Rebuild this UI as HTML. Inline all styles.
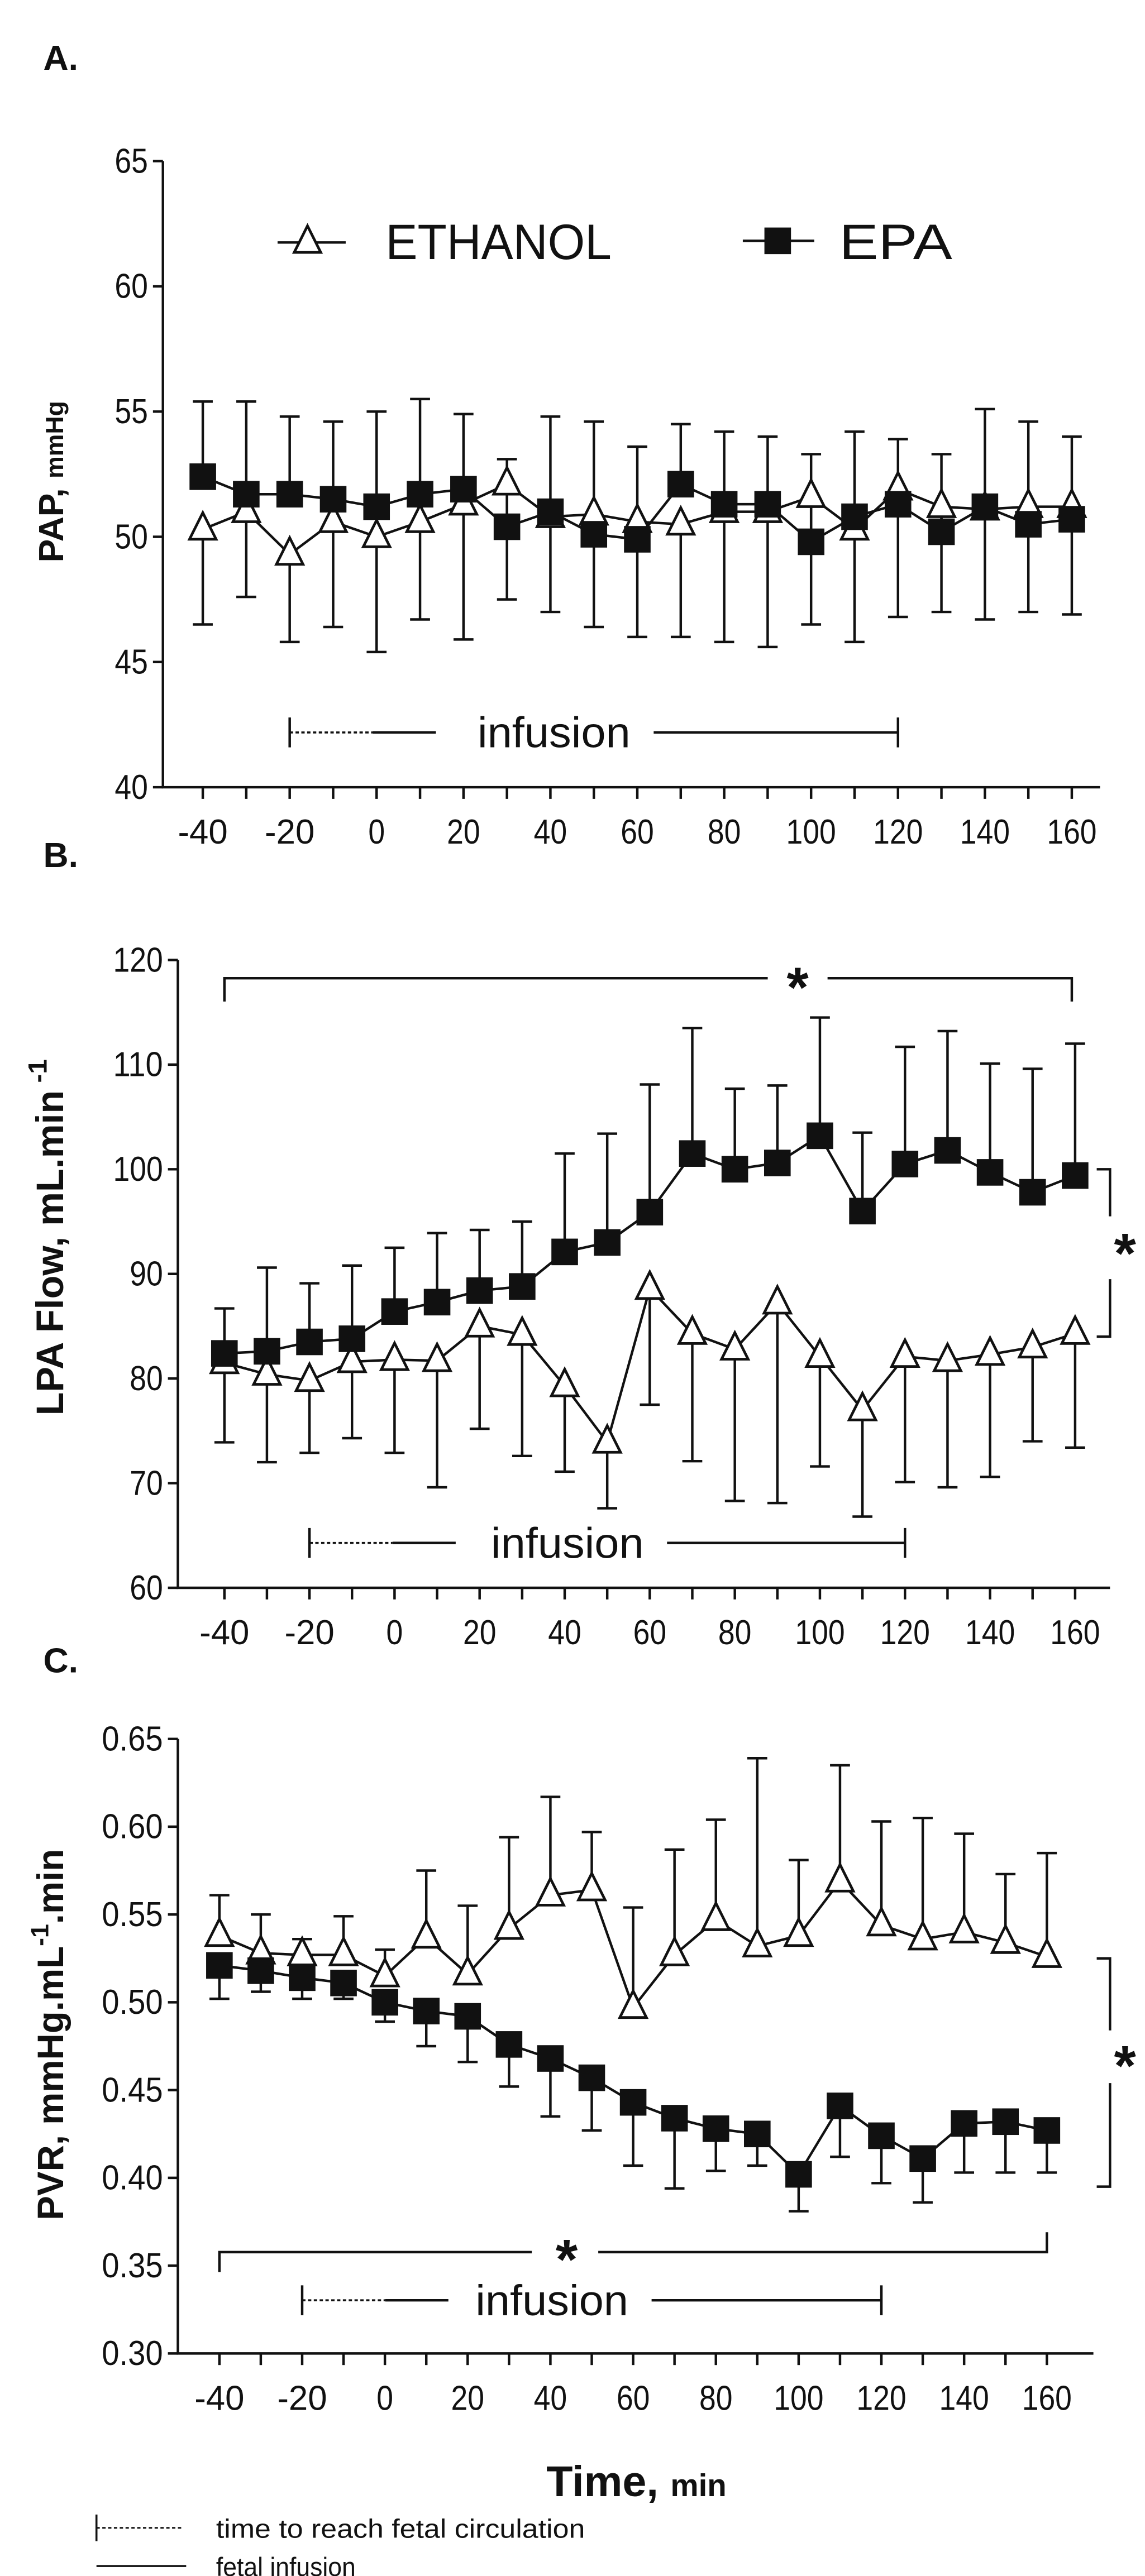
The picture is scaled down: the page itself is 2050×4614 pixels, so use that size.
<!DOCTYPE html>
<html><head><meta charset="utf-8"><style>
html,body{margin:0;padding:0;background:#fff}
svg{display:block}
text{font-family:"Liberation Sans",sans-serif;fill:#111}
</style></head><body>
<svg id="fig" width="2050" height="4614" viewBox="0 0 689 1551" xmlns="http://www.w3.org/2000/svg"></svg>
<script>
const times = [-40,-30,-20,-10,0,10,20,30,40,50,60,70,80,90,100,110,120,130,140,150,160];
const xTicks = [-40,-20,0,20,40,60,80,100,120,140,160];
const aEthanol = [50.3,51.0,49.3,50.6,50.0,50.6,51.3,52.1,50.8,50.9,50.6,50.5,51.0,51.0,51.6,50.3,51.9,51.2,51.1,51.2,51.2];
const aEpa = [52.4,51.7,51.7,51.5,51.2,51.7,51.9,50.4,51.0,50.1,49.9,52.1,51.3,51.3,49.8,50.8,51.3,50.2,51.2,50.5,50.7];
const aUpper = [55.4,55.4,54.8,54.6,55.0,55.5,54.9,53.1,54.8,54.6,53.6,54.5,54.2,54.0,53.3,54.2,53.9,53.3,55.1,54.6,54.0];
const aLower = [46.5,47.6,45.8,46.4,45.4,46.7,45.9,47.5,47.0,46.4,46.0,46.0,45.8,45.6,46.5,45.8,46.8,47.0,46.7,47.0,46.9];
const aYTicks = [40,45,50,55,60,65];
const bEthanol = [81.5,80.4,79.8,81.6,81.8,81.7,85.0,84.2,79.3,73.9,88.6,84.3,82.8,87.2,82.1,77.0,82.1,81.7,82.3,83.0,84.3];
const bEpa = [82.4,82.6,83.5,83.8,86.4,87.3,88.4,88.8,92.1,93.0,95.9,101.5,100.0,100.6,103.2,96.0,100.5,101.8,99.7,97.8,99.4];
const bUpper = [86.7,90.6,89.1,90.8,92.5,93.9,94.2,95.0,101.5,103.4,108.1,113.5,107.7,108.0,114.5,103.5,111.7,113.2,110.1,109.6,112.0];
const bLower = [73.9,72.0,72.9,74.3,72.9,69.6,75.2,72.6,71.1,67.6,77.5,72.1,68.3,68.1,71.6,66.8,70.1,69.6,70.6,74.0,73.4];
const bYTicks = [60,70,80,90,100,110,120];
const cEthanol = [.538,.528,.527,.527,.515,.537,.516,.542,.561,.564,.497,.527,.547,.532,.538,.569,.544,.536,.540,.534,.526];
const cEpa = [.521,.518,.514,.511,.500,.495,.492,.476,.468,.457,.443,.434,.428,.425,.402,.441,.424,.411,.431,.432,.427];
const cUpper = [.561,.550,.536,.549,.530,.575,.555,.594,.617,.597,.554,.587,.604,.639,.581,.635,.603,.605,.596,.573,.585];
const cLower = [.502,.506,.502,.502,.489,.475,.466,.452,.435,.427,.407,.394,.404,.407,.381,.412,.397,.386,.403,.403,.403];
const cYTicks = ["0.30","0.35","0.40","0.45","0.50","0.55","0.60","0.65"];

const NS="http://www.w3.org/2000/svg";
const svg=document.getElementById('fig');
function el(tag,attrs,parent,txt){const e=document.createElementNS(NS,tag);for(const k in attrs)e.setAttribute(k,attrs[k]);if(txt!==undefined)e.textContent=txt;(parent||svg).appendChild(e);return e;}
const L={stroke:'#111','stroke-width':1.5,fill:'none'};
function narrow(s,w){return {textLength:(s.length*w).toFixed(1),lengthAdjust:'spacingAndGlyphs'};}

function panel(cfg){
  const g=el('g',{});
  
  
  const xs=t=>cfg.x0+(t+40)/200*(cfg.x1-cfg.x0);
  const ys=v=>cfg.yb+(v-cfg.ymin)/(cfg.ymax-cfg.ymin)*(cfg.yt-cfg.yb);
  const ax=el('path',Object.assign({d:`M${cfg.ax},${cfg.yt} V${cfg.yb} H${cfg.axEnd}`},L),g);
  
  
  cfg.yticks.forEach(v=>{const y=ys(+v);
    el('line',Object.assign({x1:cfg.ax-6,x2:cfg.ax,y1:y,y2:y},L),g);
    const t=el('text',Object.assign({x:cfg.ax-9,y:y+7,'font-size':21,'text-anchor':'end'},narrow(v,v.indexOf('.')>=0?9.2:10)),g,v);
    
    
  });
  times.forEach(tm=>{const x=xs(tm);el('line',Object.assign({x1:x,x2:x,y1:cfg.yb,y2:cfg.yb+7},L),g);});
  xTicks.forEach(tm=>{const s=String(tm);const t=el('text',Object.assign({x:xs(tm),y:cfg.yb+34,'font-size':21,'text-anchor':'middle'},narrow(s,10)),g,s);
    
    });
  times.forEach((tm,i)=>{const x=xs(tm);
    const up=cfg.upSeries[i], lo=cfg.loSeries[i];
    el('line',Object.assign({x1:x,x2:x,y1:ys(up),y2:ys(cfg.upper[i])},L),g);
    el('line',Object.assign({x1:x-6,x2:x+6,y1:ys(cfg.upper[i]),y2:ys(cfg.upper[i])},L),g);
    el('line',Object.assign({x1:x,x2:x,y1:ys(lo),y2:ys(cfg.lower[i])},L),g);
    el('line',Object.assign({x1:x-6,x2:x+6,y1:ys(cfg.lower[i]),y2:ys(cfg.lower[i])},L),g);
  });
  const pe=el('polyline',Object.assign({points:cfg.eth.map((v,i)=>xs(times[i])+','+ys(v)).join(' ')},L),g);
  
  
  const pp=el('polyline',Object.assign({points:cfg.epa.map((v,i)=>xs(times[i])+','+ys(v)).join(' ')},L),g);
  
  
  cfg.eth.forEach((v,i)=>{const x=xs(times[i]),y=ys(v);
    const m=el('path',{d:`M${x},${y-10} L${x+8},${y+6} L${x-8},${y+6} Z`,fill:'#fff',stroke:'#111','stroke-width':1.6},g);
    
    });
  cfg.epa.forEach((v,i)=>{const x=xs(times[i]),y=ys(v);
    const m=el('rect',{x:x-8,y:y-8,width:16,height:16,fill:'#111'},g);
    
    });
  const iy=cfg.infY, a=xs(-20), b=xs(120);
  const ig=el('g',{},g);
  
  
  el('line',Object.assign({x1:a,x2:a,y1:iy-9,y2:iy+9},L),ig);
  el('line',{x1:a,x2:a+50,y1:iy,y2:iy,stroke:'#111','stroke-width':1.2,'stroke-dasharray':'2,1.5'},ig);
  el('line',Object.assign({x1:a+50,x2:a+88,y1:iy},{y2:iy},L),ig);
  el('text',{x:(a+b)/2-24,y:iy+9,'font-size':26,'text-anchor':'middle',textLength:92,lengthAdjust:'spacingAndGlyphs'},ig,'infusion');
  el('line',Object.assign({x1:(a+b)/2+36,x2:b,y1:iy,y2:iy},L),ig);
  el('line',Object.assign({x1:b,x2:b,y1:iy-9,y2:iy+9},L),ig);
  const yl=el('text',{x:0,y:0,'font-size':cfg.ylSize||21,'font-weight':'bold','text-anchor':'middle',transform:`translate(${cfg.ylx},${cfg.yly}) rotate(-90)`},g);
  yl.innerHTML=cfg.ylabel;
  
  
  const pl=el('text',{x:26,y:cfg.plY,'font-size':21,'font-weight':'bold'},g,cfg.letter);
  
  
  return {xs,ys,g};
}

const A=panel({name:'panel-a',x0:122,x1:645,ax:98,axEnd:662,yt:97,yb:474,ymin:40,ymax:65,yticks:aYTicks.map(String),
  eth:aEthanol,epa:aEpa,upper:aUpper,lower:aLower,upSeries:aEpa,loSeries:aEthanol,infY:441,
  ylabel:'PAP, <tspan font-size="15">mmHg</tspan>',ylx:38,yly:290,letter:'A.',plY:42});
const lg=el('g',{});


el('line',Object.assign({x1:167,x2:208,y1:146,y2:146},L),lg);
el('path',{d:'M185,136 L193,152 L177,152 Z',fill:'#fff',stroke:'#111','stroke-width':1.6},lg);
el('text',{x:232,y:156,'font-size':30,textLength:136,lengthAdjust:'spacingAndGlyphs'},lg,'ETHANOL');
el('line',Object.assign({x1:447,x2:490,y1:145,y2:145},L),lg);
el('rect',{x:460,y:137,width:16,height:16,fill:'#111'},lg);
el('text',{x:505,y:156,'font-size':30,textLength:68,lengthAdjust:'spacingAndGlyphs'},lg,'EPA');

const B=panel({name:'panel-b',x0:135,x1:647,ax:107,axEnd:668,yt:578,yb:956,ymin:60,ymax:120,yticks:bYTicks.map(String),
  eth:bEthanol,epa:bEpa,upper:bUpper,lower:bLower,upSeries:bEpa,loSeries:bEthanol,infY:929,ylSize:23,
  ylabel:'LPA Flow, mL.min<tspan font-size="16" dy="-10"> -1</tspan>',ylx:38,yly:745,letter:'B.',plY:522});
el('path',Object.assign({d:`M135,603 V589 H462 M498,589 H645 V603`},L));
el('text',{x:480,y:606,'font-size':34,'font-weight':'bold','text-anchor':'middle'},undefined,'*');
el('path',Object.assign({d:`M660,${B.ys(100)} H668 V${B.ys(95.5)} M668,${B.ys(89.5)} V${B.ys(84)} H660`},L));
el('text',{x:677,y:B.ys(92.5)+15,'font-size':34,'font-weight':'bold','text-anchor':'middle'},undefined,'*');

const C=panel({name:'panel-c',x0:132,x1:630,ax:107,axEnd:658,yt:1047,yb:1417,ymin:0.30,ymax:0.65,yticks:cYTicks,
  eth:cEthanol,epa:cEpa,upper:cUpper,lower:cLower,upSeries:cEthanol,loSeries:cEpa,infY:1385,ylSize:22,
  ylabel:'PVR, mmHg.mL<tspan font-size="15" dy="-9">-1</tspan><tspan dy="9">.min</tspan>',ylx:38,yly:1225,letter:'C.',plY:1007});
el('path',Object.assign({d:`M660,${C.ys(0.525)} H668 V${C.ys(0.484)} M668,${C.ys(0.454)} V${C.ys(0.395)} H660`},L));
el('text',{x:677,y:C.ys(0.468)+16,'font-size':34,'font-weight':'bold','text-anchor':'middle'},undefined,'*');
el('path',Object.assign({d:`M132,1368 V1356 H320 M360,1356 H630 V1344`},L));
el('text',{x:341,y:1372,'font-size':34,'font-weight':'bold','text-anchor':'middle'},undefined,'*');
const xt=el('text',{x:383,y:1503,'font-size':26,'font-weight':'bold','text-anchor':'middle'});
xt.innerHTML='Time, <tspan font-size="19">min</tspan>';


const fn=el('g',{});


el('line',{x1:58,x2:58,y1:1514,y2:1530,stroke:'#111','stroke-width':1.2},fn);
el('line',{x1:58,x2:110,y1:1522,y2:1522,stroke:'#111','stroke-width':1,'stroke-dasharray':'2,1.5'},fn);
el('text',{x:130,y:1528,'font-size':16,textLength:222,lengthAdjust:'spacingAndGlyphs'},fn,'time to reach fetal circulation');
el('line',{x1:58,x2:112,y1:1545,y2:1545,stroke:'#111','stroke-width':1.2},fn);
el('text',{x:130,y:1551,'font-size':16,textLength:84,lengthAdjust:'spacingAndGlyphs'},fn,'fetal infusion');
</script>
</body></html>
